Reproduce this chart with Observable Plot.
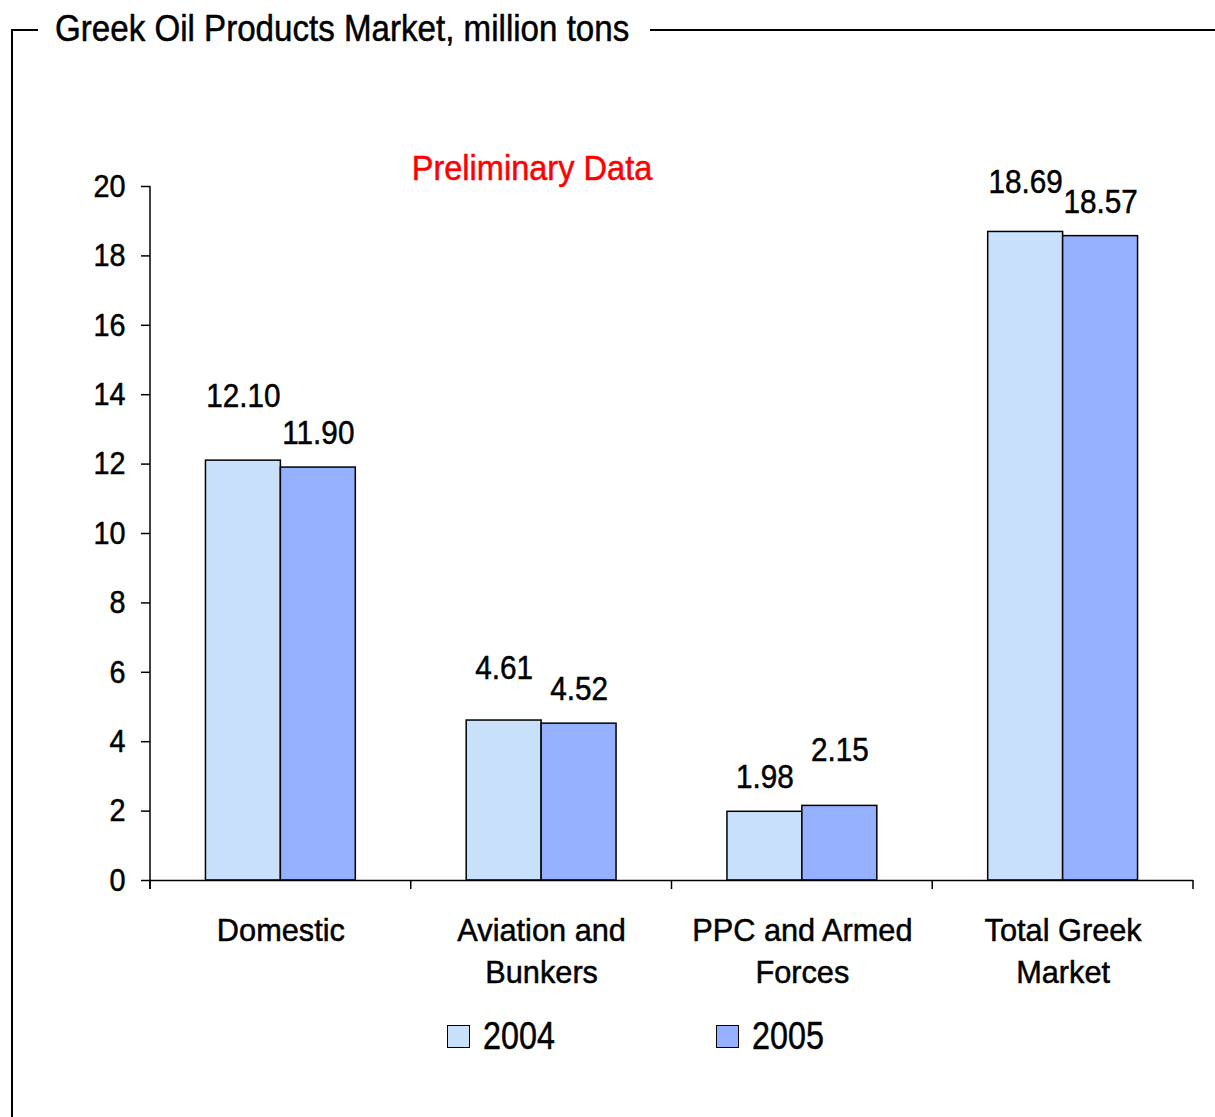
<!DOCTYPE html>
<html>
<head>
<meta charset="utf-8">
<script src="https://cdn.jsdelivr.net/npm/d3@7"></script>
<script src="https://cdn.jsdelivr.net/npm/@observablehq/plot@0.6"></script>
<style>
  html, body { margin: 0; padding: 0; background: #fff; }
  body { font-family: "Liberation Sans", Arial, sans-serif; }
  #wrap { position: relative; width: 1215px; height: 1117px; overflow: hidden; }
  #chart { position: absolute; left: 0; top: 0; }
  .frame-line { position: absolute; background: #000; }
  .thick { -webkit-text-stroke: 0.5px currentColor; }
  #title { position: absolute; left: 55px; top: 7px; font-size: 36px; line-height: 44px; color: #000; white-space: nowrap; transform: scaleX(0.92); transform-origin: left center; }
  #note { position: absolute; left: 332px; width: 400px; text-align: center; top: 146px; font-size: 35px; line-height: 44px; color: #ff0000; white-space: nowrap; transform: scaleX(0.93); transform-origin: center center; }
  .legend-item { position: absolute; top: 1014px; display: flex; align-items: center; font-size: 38px; line-height: 44px; }
  .legend-item span { display: inline-block; transform: scaleX(0.85); transform-origin: left center; }
  .swatch { width: 21px; height: 21px; border: 1.5px solid #000; margin-right: 13px; }
</style>
</head>
<body>
<div id="wrap">
  <div class="frame-line" style="left:11px; top:29px; width:2px; height:1088px;"></div>
  <div class="frame-line" style="left:11px; top:29px; width:27px; height:2px;"></div>
  <div class="frame-line" style="left:650px; top:29px; width:565px; height:2px;"></div>
  <div id="title" class="thick">Greek Oil Products Market, million tons</div>
  <div id="chart"></div>
  <div id="note" class="thick">Preliminary Data</div>
  <div id="legend"></div>
</div>
<script>
const categories = ["Domestic", "Aviation and Bunkers", "PPC and Armed Forces", "Total Greek Market"];
const categoryLabels = ["Domestic", "Aviation and\nBunkers", "PPC and Armed\nForces", "Total Greek\nMarket"];
const years = ["2004", "2005"];
const values2004 = [12.10, 4.61, 1.98, 18.69];
const values2005 = [11.90, 4.52, 2.15, 18.57];
const yTicks = [0, 2, 4, 6, 8, 10, 12, 14, 16, 18, 20];

const colors = {"2004": "#C8E0FA", "2005": "#94B0FE"};
const FONT = '"Liberation Sans", Arial, sans-serif';

const data = [];
categories.forEach((c, i) => {
  data.push({category: c, year: "2004", value: values2004[i]});
  data.push({category: c, year: "2005", value: values2005[i]});
});

// label lift above bar top (styling, px)
const labelLift = {"Domestic|2004": -64, "Aviation and Bunkers|2004": -52, "PPC and Armed Forces|2005": -55, "Total Greek Market|2004": -50};
const liftOf = d => labelLift[d.category + "|" + d.year] ?? -34;

const labelMap = new Map(categories.map((c, i) => [c, categoryLabels[i]]));

const plot = Plot.plot({
  width: 1215,
  height: 1000,
  marginLeft: 150,
  marginRight: 22,
  marginTop: 186,
  marginBottom: 120,
  style: {fontFamily: FONT, fontSize: "32px", color: "#000", background: "transparent", overflow: "visible"},
  fx: {domain: categories, padding: 0, round: false},
  x: {domain: years, paddingInner: 0, paddingOuter: 0.74, round: false},
  y: {domain: [0, 20]},
  color: {domain: years, range: years.map(y => colors[y])},
  marks: [
    Plot.barY(data, {fx: "category", x: "year", y: "value", fill: "year", stroke: "#000", strokeWidth: 1.5}),
    Plot.ruleY([0], {stroke: "#000", strokeWidth: 1.5}),
    ...data.map(d => Plot.text([d], {fx: "category", x: "year", y: "value", text: v => v.value.toFixed(2), dy: liftOf(d), fontSize: 33, fill: "#000"})),
    Plot.axisY({ticks: yTicks, tickSize: 9, tickPadding: 16, label: null, fontSize: 32, tickFormat: d => String(d), strokeWidth: 1.5}),
    Plot.axisFx({anchor: "bottom", tickSize: 0, tickPadding: 31, label: null, fontSize: 32, lineHeight: 1.31, tickFormat: c => labelMap.get(c)}),
    Plot.axisX({ticks: [], label: null, tickSize: 0})
  ]
});

document.getElementById("chart").appendChild(plot);

// axis lines and category boundary ticks through the plot's scales
const svg = d3.select(plot);
const fx = plot.scale("fx");
const y = plot.scale("y");
const x0 = fx.apply(categories[0]);
const yTop = y.apply(20);
const yBase = y.apply(0);
svg.append("line").attr("x1", x0).attr("x2", x0).attr("y1", yTop).attr("y2", yBase + 9)
  .attr("stroke", "#000").attr("stroke-width", 1.5);
const bounds = categories.map(c => fx.apply(c)).concat([fx.apply(categories[categories.length - 1]) + fx.bandwidth]);
bounds.forEach(b => {
  svg.append("line").attr("x1", b).attr("x2", b).attr("y1", yBase).attr("y2", yBase + 9)
    .attr("stroke", "#000").attr("stroke-width", 1.5);
});

// narrow the SVG text (the reference uses a condensed face)
plot.querySelectorAll("text").forEach(t => {
  const spans = t.querySelectorAll("tspan");
  const targets = spans.length ? Array.from(spans) : [t];
  targets.forEach(el => {
    const w = el.getComputedTextLength();
    const factor = /[A-Za-z]/.test(el.textContent) ? 0.96 : 0.90;
    if (w > 0) {
      el.setAttribute("textLength", (w * factor).toFixed(2));
      el.setAttribute("lengthAdjust", "spacingAndGlyphs");
    }
  });
  t.setAttribute("stroke", "currentColor");
  t.setAttribute("stroke-width", "0.5");
  t.setAttribute("fill", "currentColor");
});

// legend
const legend = document.getElementById("legend");
const legendLeft = {"2004": 447, "2005": 716};
years.forEach(yr => {
  const item = document.createElement("div");
  item.className = "legend-item";
  item.style.left = legendLeft[yr] + "px";
  const sw = document.createElement("div");
  sw.className = "swatch";
  sw.style.background = colors[yr];
  const t = document.createElement("span");
  t.className = "thick";
  t.textContent = yr;
  item.appendChild(sw);
  item.appendChild(t);
  legend.appendChild(item);
});
</script>
</body>
</html>
